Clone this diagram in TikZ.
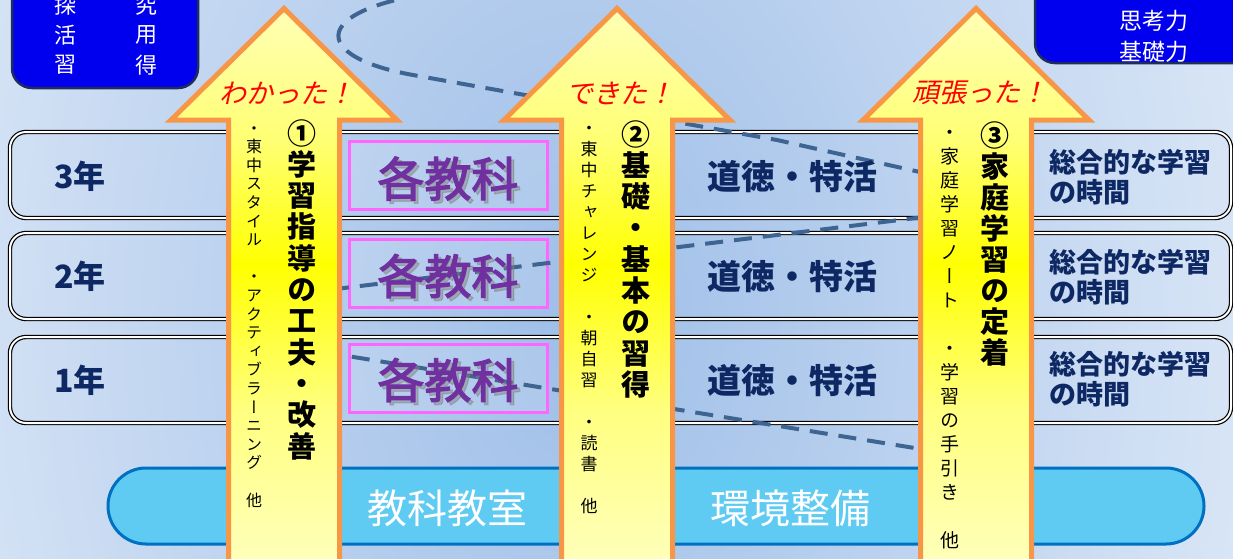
\documentclass[tikz,border=0pt]{standalone}
\usepackage{fontspec}
\setmainfont{Noto Sans CJK JP}
\newfontfamily\jpv{Noto Sans CJK JP}[RawFeature=+vert]
\newfontfamily\jpsl{Noto Sans CJK JP}[FakeSlant=0.22]
\newfontfamily\jpmed{Noto Sans CJK JP}[FakeBold=2.6]
\definecolor{bgc}{RGB}{158,190,232}
\definecolor{navy}{RGB}{14,40,100}
\definecolor{kpurple}{HTML}{7030A0}
\definecolor{kpink}{HTML}{FF66FF}
\definecolor{aor}{HTML}{F79646}
\definecolor{dashc}{RGB}{62,100,145}
\definecolor{boxblue}{RGB}{0,0,238}
\definecolor{boxedge}{RGB}{31,45,92}
\definecolor{barfill}{HTML}{5FCBF3}
\definecolor{baredge}{HTML}{0070C0}
\colorlet{ylA}{yellow!12!white}
\colorlet{ylB}{yellow!30!white}
\colorlet{ylC}{yellow!50!white}
\colorlet{ylD}{yellow!55!white}
\colorlet{ylE}{yellow!18!white}
\pgfdeclareverticalshading{arrowshade}{100bp}{color(0bp)=(white); color(5bp)=(white); color(15bp)=(ylA); color(27bp)=(ylB); color(39bp)=(ylC); color(52bp)=(yellow); color(63bp)=(ylD); color(80bp)=(ylE); color(100bp)=(white)}
% vertical column of characters: name, x, y0, pitch, size, extra font, list
\newcommand\vcolumn[7]{%
  \foreach \c [count=\i from 0] in {#7}
    \node[anchor=base, inner sep=0pt, font=\jpv#6\fontsize{#5}{#5}\selectfont, yshift={-0.38*#5}] (#1-\i) at (#2, {#3+\i*#4}) {\c};}
\newcommand\bigarrowup[1]{%
  \path[arrowbody] (#1,8.5) -- ({#1+113},120) -- ({#1+55.5},120) -- ({#1+55.5},565) -- ({#1-55.5},565) -- ({#1-55.5},120) -- ({#1-113},120) -- cycle;}
\begin{document}
\begin{tikzpicture}[x=1pt,y=-1pt,
  rowbox/.style={draw=black, line width=1.2pt, double=white, double distance=2pt, rounded corners=16pt},
  kbox/.style={draw=kpink, line width=3pt, fill=white, fill opacity=0.12, draw opacity=1},
  bluebox/.style={fill=boxblue, draw=boxedge, line width=2.5pt, rounded corners=20pt},
  bar/.style={fill=barfill, draw=baredge, line width=3pt, rounded corners=38pt},
  dashline/.style={draw=dashc, line width=4pt, dash pattern=on 18pt off 11pt},
  arrowbody/.style={draw=aor, line width=5pt, line join=miter, shading=arrowshade, shade},
  boxtxt/.style={text=white, inner sep=0pt, font=\fontsize{22}{24}\selectfont},
  yeartxt/.style={text=navy, inner sep=0pt, font=\bfseries\fontsize{32}{34}\selectfont},
  subjtxt/.style={text=navy, inner sep=0pt, font=\bfseries\fontsize{34}{36}\selectfont},
  sogotxt/.style={text=navy, inner sep=0pt, anchor=west, align=left, font=\bfseries\fontsize{27}{30}\selectfont},
  kyokatxt/.style={text=kpurple, inner sep=0pt, font=\jpmed\fontsize{47}{50}\selectfont},
  kshadow/.style={text=black!50, opacity=0.45, inner sep=0pt, font=\jpmed\fontsize{47}{50}\selectfont},
  bartxt/.style={text=white, inner sep=0pt, font=\fontsize{40}{44}\selectfont},
  exclaim/.style={text=red, inner sep=0pt, font=\jpsl\fontsize{27}{30}\selectfont}]
\useasboundingbox (0,0) rectangle (1233,558);
\clip (0,0) rectangle (1233,558);
% background
\shade[inner color=bgc, outer color=white] (-540,-1280) rectangle (1700,1920);
% top blue boxes
\path[bluebox] (12,-30) rectangle (198,88);
\path[bluebox] (1035,-30) rectangle (1262,63);
\node[boxtxt] (t1) at (65,5) {探};
\node[boxtxt] (t2) at (146,5) {究};
\node[boxtxt] (t3) at (65,35) {活};
\node[boxtxt] (t4) at (146,35) {用};
\node[boxtxt] (t5) at (65,65) {習};
\node[boxtxt] (t6) at (146,65) {得};
\node[boxtxt, font=\fontsize{23}{25}\selectfont] (r1) at (1154,21) {思考力};
\node[boxtxt, font=\fontsize{23}{25}\selectfont] (r2) at (1154,52) {基礎力};
% rows
\path[rowbox] (10,132) rectangle (1231,218);
\path[rowbox] (10,233) rectangle (1231,319);
\path[rowbox] (10,337) rectangle (1231,423);
\path[kbox] (349,141) rectangle (547,209);
\path[kbox] (349,239) rectangle (547,307);
\path[kbox] (349,344) rectangle (547,412);
% dashed spiral
\draw[dashline] (480,-12) .. controls (310,0) and (300,55) .. (413,75) -- (777,140) -- (960,181) -- (960,212.6) -- (290,294.6) -- (290,346.7) -- (970,457);
% row texts
\node[yeartxt] (y3) at (80,176) {3年};
\node[yeartxt] (y2) at (80,276) {2年};
\node[yeartxt] (y1) at (80,380) {1年};
\foreach \yy/\nm in {178.5/k3,276/k2,380/k1}{
  \node[kshadow] (\nm s) at (451,\yy+3) {各教科};
  \node[kyokatxt] (\nm) at (448,\yy) {各教科};
}
\node[subjtxt] (d3) at (792,177) {道徳・特活};
\node[subjtxt] (d2) at (792,277) {道徳・特活};
\node[subjtxt] (d1) at (792,381) {道徳・特活};
\node[sogotxt] (s3) at (1049,177) {総合的な学習\\の時間};
\node[sogotxt] (s2) at (1049,277) {総合的な学習\\の時間};
\node[sogotxt] (s1) at (1049,379) {総合的な学習\\の時間};
% bottom bar
\path[bar] (108,468) rectangle (1204,544);
\node[bartxt] (b1) at (447,508) {教科教室};
\node[bartxt] (b2) at (790,508) {環境整備};
% arrows
\bigarrowup{284}
\bigarrowup{617}
\bigarrowup{976}
\node[exclaim] (e1) at (287,93) {わかった！};
\node[exclaim] (e2) at (620,93) {できた！};
\node[exclaim] (e3) at (980,93) {頑張った！};
\vcolumn{h1}{302}{133}{31.3}{29}{\bfseries}{①,学,習,指,導,の,工,夫,・,改,善}
\vcolumn{h2}{636}{134}{31.3}{29}{\bfseries}{②,基,礎,・,基,本,の,習,得}
\vcolumn{h3}{995}{135}{31}{29}{\bfseries}{③,家,庭,学,習,の,定,着}
\vcolumn{c1}{254}{128}{18.6}{16}{}{・,東,中,ス,タ,イ,ル,{},・,ア,ク,テ,ィ,ブ,ラ,ー,ニ,ン,グ,{},他}
\vcolumn{c2}{589}{128}{21}{17}{}{・,東,中,チ,ャ,レ,ン,ジ,{},・,朝,自,習,{},・,読,書,{},他}
\vcolumn{c3}{950}{132}{24}{19}{}{・,家,庭,学,習,ノ,ー,ト,{},・,学,習,の,手,引,き,{},他}
\end{tikzpicture}
\end{document}
